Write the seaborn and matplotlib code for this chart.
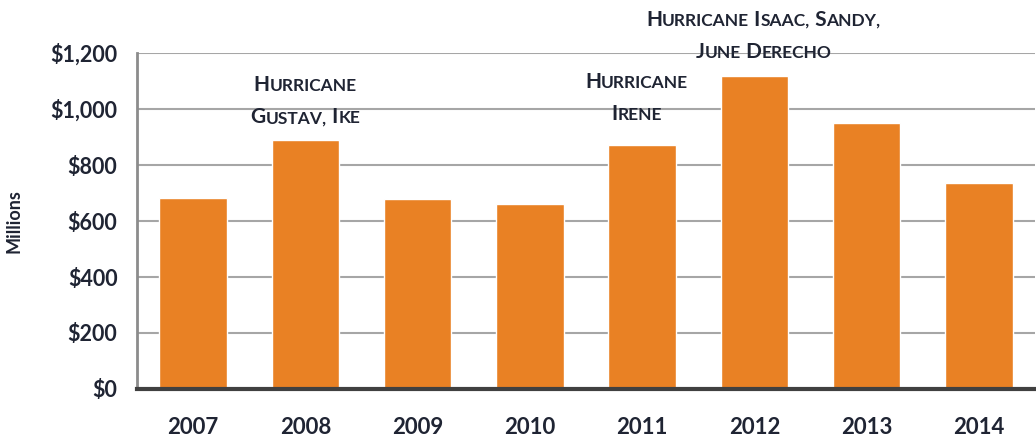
import matplotlib
matplotlib.use("Agg")
import matplotlib.pyplot as plt
import seaborn as sns
import pandas as pd
from matplotlib.offsetbox import TextArea, HPacker, VPacker, AnnotationBbox

years = ["2007", "2008", "2009", "2010", "2011", "2012", "2013", "2014"]
values = [682, 889, 679, 661, 873, 1118, 950, 737]
y_ticks = [0, 200, 400, 600, 800, 1000, 1200]
y_tick_labels = ["$0", "$200", "$400", "$600", "$800", "$1,000", "$1,200"]
annotations = {
    "2008": ["Hurricane", "Gustav, Ike"],
    "2011": ["Hurricane", "Irene"],
    "2012": ["Hurricane Isaac, Sandy,", "June Derecho"],
}
# layout only: (x shift in category units, base height in data units)
annotation_pos = {"2008": (0.0, 935), "2011": (-0.05, 945), "2012": (0.08, 1168)}

sns.set_theme(style="white")
FONT = ["Lato", "DejaVu Sans"]
plt.rcParams["font.family"] = FONT
TXT = "#1f2433"

df = pd.DataFrame({"year": years, "value": values})

fig = plt.figure(figsize=(10.36, 4.38), dpi=100)
ax = fig.add_axes([0.1322, 0.1119, 0.8668, 0.767])

sns.barplot(data=df, x="year", y="value", color="#E98124", width=0.6,
            saturation=1, ax=ax, zorder=3)

ax.set_ylim(0, 1200)
ax.set_xlim(-0.5, len(years) - 0.5)
ax.set_yticks(y_ticks)
ax.set_yticklabels(y_tick_labels, fontsize=15.5, fontweight="bold", color=TXT)
ax.set_xticks(range(len(years)))
ax.set_xticklabels(years, fontsize=16, fontweight="bold", color=TXT)
ax.set_xticks([i - 0.5 for i in range(len(years) + 1)], minor=True)
ax.tick_params(axis="x", which="major", length=0, pad=20)
ax.tick_params(axis="x", which="minor", length=7, width=2, color="#404040", direction="out")
ax.tick_params(axis="y", which="major", length=5, width=1.2, color="#8c8c8c", direction="out", pad=9)
ax.set_xlabel("")
ax.set_ylabel("Millions", fontsize=13, fontweight="bold", color=TXT, labelpad=20)

ax.grid(axis="y", color="#a6a6a6", linewidth=1.5, zorder=0)
ax.set_axisbelow(True)
for s in ["top", "right"]:
    ax.spines[s].set_visible(False)
ax.spines["left"].set_color("#8c8c8c")
ax.spines["left"].set_linewidth(2)
ax.spines["bottom"].set_color("#404040")
ax.spines["bottom"].set_linewidth(3)
ax.spines["bottom"].set_zorder(4)


def smallcaps_line(line, big=15, small=12.5):
    children = []
    words = line.split(" ")
    for wi, word in enumerate(words):
        prefix = " " if wi > 0 else ""
        pieces = []
        cur_text, cur_big = prefix, None
        for ch in word:
            is_big = ch.isupper()
            if cur_big is None:
                cur_big = is_big
            if is_big != cur_big:
                pieces.append((cur_text, cur_big))
                cur_text, cur_big = "", is_big
            cur_text += ch.upper()
        pieces.append((cur_text, cur_big))
        for txt, b in pieces:
            children.append(TextArea(txt, textprops=dict(
                fontsize=big if b else small, fontweight="bold",
                color=TXT, family=FONT)))
    return HPacker(children=children, align="baseline", pad=0, sep=0)


for yr, lines in annotations.items():
    idx = years.index(yr)
    dx, yb = annotation_pos[yr]
    box = VPacker(children=[smallcaps_line(l) for l in lines],
                  align="center", pad=0, sep=9)
    ab = AnnotationBbox(box, (idx + dx, yb), xycoords="data",
                        box_alignment=(0.5, 0), frameon=False,
                        annotation_clip=False, pad=0)
    ax.add_artist(ab)

fig.savefig("out.png", dpi=100)
